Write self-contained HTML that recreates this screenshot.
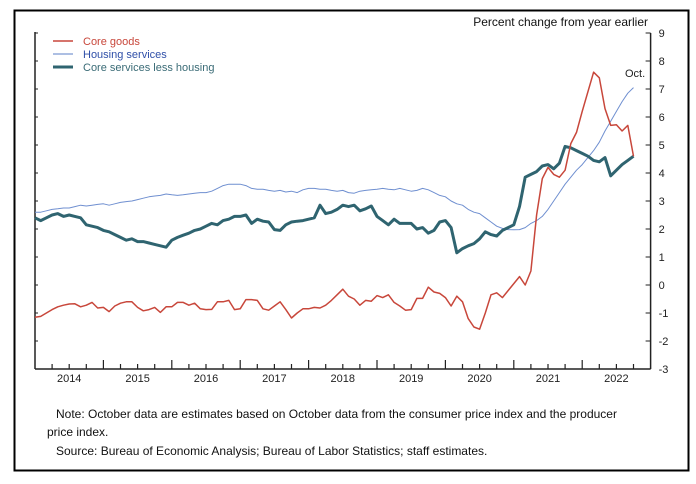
<!DOCTYPE html>
<html><head><meta charset="utf-8"><style>
body{margin:0;background:#fff;}
svg{display:block;font-family:"Liberation Sans",sans-serif;}
</style></head><body>
<svg id="chart" width="696" height="484" viewBox="0 0 696 484">
<rect x="14.5" y="10.5" width="674" height="460" fill="none" stroke="#000" stroke-width="2"/>
<text x="648" y="26" text-anchor="end" font-size="12" fill="#111">Percent change from year earlier</text>
<g id="axes"></g>
<g id="series"></g>
<g>
<line x1="53" y1="41" x2="73" y2="41" stroke="#c8473b" stroke-width="1.5"/>
<text x="83" y="45" font-size="11" fill="#c8473b">Core goods</text>
<line x1="53" y1="54" x2="73" y2="54" stroke="#5b7fc7" stroke-width="1"/>
<text x="83" y="58" font-size="11" fill="#2f4fa8">Housing services</text>
<line x1="53" y1="67" x2="73" y2="67" stroke="#2f6470" stroke-width="3"/>
<text x="83" y="71" font-size="11" fill="#3a6b76">Core services less housing</text>
</g>
<text x="625" y="77" font-size="11" fill="#222">Oct.</text>
<text x="56" y="418" font-size="12" fill="#111">Note: October data are estimates based on October data from the consumer price index and the producer</text>
<text x="47" y="436" font-size="12" fill="#111">price index.</text>
<text x="56" y="455" font-size="12" fill="#111">Source: Bureau of Economic Analysis; Bureau of Labor Statistics; staff estimates.</text>
</svg>
<script>
const years = [2014,2015,2016,2017,2018,2019,2020,2021,2022];
const yTicks = [-3,-2,-1,0,1,2,3,4,5,6,7,8,9];
const coreGoods = [
-1.15,-1.12,-1.0,-0.88,-0.78,-0.72,-0.68,-0.67,-0.78,-0.72,-0.62,-0.82,
-0.8,-0.95,-0.75,-0.65,-0.6,-0.6,-0.8,-0.92,-0.88,-0.8,-0.98,-0.78,
-0.78,-0.62,-0.62,-0.72,-0.65,-0.85,-0.88,-0.87,-0.6,-0.6,-0.55,-0.88,
-0.85,-0.52,-0.52,-0.55,-0.85,-0.9,-0.75,-0.6,-0.88,-1.18,-1.0,-0.85,
-0.85,-0.8,-0.82,-0.72,-0.55,-0.35,-0.15,-0.4,-0.5,-0.72,-0.55,-0.58,
-0.38,-0.45,-0.35,-0.62,-0.75,-0.9,-0.88,-0.48,-0.48,-0.08,-0.25,-0.3,
-0.45,-0.75,-0.4,-0.6,-1.2,-1.5,-1.58,-1.0,-0.35,-0.28,-0.45,-0.2,
0.05,0.3,0.0,0.5,2.5,3.8,4.2,3.95,3.85,4.1,5.05,5.45,
6.2,6.9,7.6,7.4,6.3,5.7,5.72,5.5,5.7,4.6];
const housing = [
2.6,2.6,2.65,2.7,2.72,2.75,2.75,2.8,2.85,2.82,2.85,2.88,
2.9,2.85,2.9,2.95,2.98,3.0,3.05,3.1,3.15,3.18,3.2,3.25,
3.22,3.2,3.22,3.25,3.28,3.3,3.3,3.35,3.45,3.55,3.6,3.6,
3.6,3.55,3.45,3.42,3.42,3.38,3.35,3.38,3.32,3.35,3.3,3.4,
3.45,3.45,3.42,3.42,3.38,3.35,3.38,3.3,3.28,3.35,3.38,3.4,
3.42,3.45,3.42,3.4,3.45,3.4,3.35,3.38,3.45,3.4,3.3,3.2,
3.15,3.0,2.9,2.85,2.7,2.6,2.55,2.4,2.25,2.1,2.02,1.98,
1.97,1.98,2.05,2.2,2.3,2.45,2.7,3.0,3.3,3.6,3.85,4.1,
4.3,4.55,4.8,5.1,5.5,5.85,6.2,6.55,6.85,7.05];
const coreServices = [
2.4,2.3,2.4,2.5,2.55,2.45,2.5,2.45,2.4,2.15,2.1,2.05,
1.95,1.9,1.8,1.7,1.6,1.65,1.55,1.55,1.5,1.45,1.4,1.35,
1.6,1.7,1.78,1.85,1.95,2.0,2.1,2.2,2.15,2.3,2.35,2.45,
2.45,2.5,2.2,2.35,2.28,2.25,1.98,1.95,2.15,2.25,2.28,2.3,
2.35,2.4,2.85,2.55,2.6,2.7,2.85,2.8,2.85,2.65,2.72,2.82,
2.45,2.3,2.15,2.35,2.2,2.2,2.2,2.0,2.05,1.85,1.95,2.25,
2.3,2.05,1.15,1.3,1.4,1.48,1.65,1.9,1.8,1.75,1.95,2.05,
2.15,2.8,3.85,3.95,4.05,4.25,4.3,4.15,4.35,4.95,4.9,4.8,
4.7,4.6,4.45,4.4,4.55,3.9,4.1,4.3,4.45,4.6];

const NS='http://www.w3.org/2000/svg';
const X0=35, YEARW=68.4, Y0=285, UNIT=28;
function xm(i){return X0 + i*YEARW/12;}
function xYear(y){return X0 + (y-2014)*YEARW;}
function yv(v){return Y0 - v*UNIT;}
const axes=document.getElementById('axes');
const series=document.getElementById('series');
function mk(tag,attrs,parent){const e=document.createElementNS(NS,tag);for(const k in attrs)e.setAttribute(k,attrs[k]);parent.appendChild(e);return e;}

const xLeft=xYear(2014), xRight=xYear(2023), yBot=yv(-3), yTop=yv(9);
let a=mk('line',{x1:xLeft,y1:yTop-1,x2:xLeft,y2:yBot,stroke:'#222','stroke-width':1.5},axes);


a=mk('line',{x1:xRight,y1:yTop,x2:xRight,y2:yBot,stroke:'#222','stroke-width':1.5},axes);


a=mk('line',{x1:xLeft,y1:yBot,x2:xRight,y2:yBot,stroke:'#222','stroke-width':1.5},axes);



yTicks.forEach(v=>{
  const y=yv(v);
  let t=mk('line',{x1:xRight-5,y1:y,x2:xRight,y2:y,stroke:'#222','stroke-width':1},axes);
  
  
  t=mk('line',{x1:xLeft,y1:y,x2:xLeft+3,y2:y,stroke:'#222','stroke-width':1},axes);
  
  
  const l=mk('text',{x:xRight+8,y:y+4,'font-size':11,fill:'#222'},axes);
  l.textContent=String(v);
  
  
});
for(let q=1;q<36;q++){
  const x=X0+q*YEARW/4; const major=q%4===0;
  const t=mk('line',{x1:x,y1:yBot,x2:x,y2:yBot-(major?9:5),stroke:'#222','stroke-width':1.2},axes);
  
  
}
years.forEach(yr=>{
  const l=mk('text',{x:xYear(yr)+YEARW/2,y:yBot+13,'font-size':11,fill:'#222','text-anchor':'middle'},axes);
  l.textContent=String(yr);
  
  
});
function line(data,color,w,name){
  const pts=data.map((v,i)=>xm(i).toFixed(1)+','+yv(v).toFixed(1)).join(' ');
  const p=mk('polyline',{points:pts,fill:'none',stroke:color,'stroke-width':w,'stroke-linejoin':'round'},series);
  
  
}
line(housing,'#6f8fd0',1,'housing-services-line');
line(coreServices,'#2f6470',3,'core-services-less-housing-line');
line(coreGoods,'#c8473b',1.5,'core-goods-line');
</script>
</body></html>
